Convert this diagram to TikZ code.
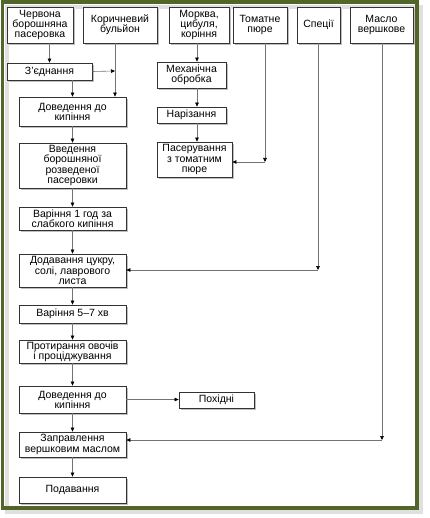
\documentclass[tikz,border=0pt]{standalone}
\usepackage{fontspec}
\setmainfont{Liberation Sans}
\usetikzlibrary{arrows.meta,shadows}
\definecolor{framegreen}{RGB}{82,102,42}

\begin{document}
\begin{tikzpicture}[x=1pt,y=-1pt,
  every node/.style={font=\fontsize{10.5}{10.2}\selectfont},
  stage/.style={draw=black!80, line width=0.8pt, fill=white, align=center, inner sep=1pt,
    drop shadow={shadow xshift=2pt, shadow yshift=-2pt, fill=black!50, opacity=0.5}},
  arr/.style={draw=black!55, line width=0.6pt, -{Triangle[length=4pt,width=3.6pt,color=black]}}]
 \useasboundingbox (0,0) rectangle (429,518);
 \draw[black!12, line width=4pt] (7,7) rectangle (421,512);
 \draw[framegreen, line width=3.5pt] (2.5,2) rectangle (417,508);
 % sources
 \node[stage, minimum width=66, minimum height=36] (chervona) at (40,25) {Червона\\борошняна\\пасеровка};
 \node[stage, minimum width=74, minimum height=36] (korichn) at (120,25) {Коричневий\\бульйон};
 \node[stage, minimum width=60, minimum height=36] (morkva) at (199,25) {Морква,\\цибуля,\\коріння};
 \node[stage, minimum width=54, minimum height=36] (tomat) at (260,25) {Томатне\\пюре};
 \node[stage, minimum width=43, minimum height=36] (spec) at (318.5,25) {Спеції};
 \node[stage, minimum width=63, minimum height=36] (maslo) at (381.5,25) {Масло\\вершкове};
 % main line
 \node[stage, minimum width=85, minimum height=17] (zed) at (49.5,71.5) {З’єднання};
 \node[stage, minimum width=107, minimum height=29] (dov1) at (72.5,111.5) {Доведення до\\кипіння};
 \node[stage, minimum width=107, minimum height=45] (vved) at (72.5,165.5) {Введення\\борошняної\\розведеної\\пасеровки};
 \node[stage, minimum width=107, minimum height=23] (var1) at (72.5,218.5) {Варіння 1 год за\\слабкого кипіння};
 \node[stage, minimum width=107, minimum height=33] (dodav) at (72.5,270.5) {Додавання цукру,\\солі, лаврового\\листа};
 \node[stage, minimum width=107, minimum height=18] (var2) at (72.5,314) {Варіння 5–7 хв};
 \node[stage, minimum width=107, minimum height=23] (protyr) at (72.5,351.5) {Протирання овочів\\і проціджування};
 \node[stage, minimum width=107, minimum height=27] (dov2) at (72.5,399.5) {Доведення до\\кипіння};
 \node[stage, minimum width=75, minimum height=16] (pohidni) at (216.5,400) {Похідні};
 \node[stage, minimum width=107, minimum height=25] (zaprav) at (72.5,444.5) {Заправлення\\вершковим маслом};
 \node[stage, minimum width=107, minimum height=26] (podav) at (72.5,490) {Подавання};
 % vegetables
 \node[stage, minimum width=69, minimum height=26] (mech) at (191.5,75) {Механічна\\обробка};
 \node[stage, minimum width=69, minimum height=16] (nariz) at (191.5,115) {Нарізання};
 \node[stage, minimum width=75, minimum height=35] (paser) at (194.5,159.5) {Пасерування\\з томатним\\пюре};
 \coordinate (kj) at (115,71);
 \coordinate (mx) at (197,0);
 \coordinate (tc) at (265,162);
 \coordinate (sc) at (318,270);
 \coordinate (mc) at (382,440);
 \draw[arr] (zed.center |- chervona.south) -- (zed.north);
 \draw[arr] (zed.east) -- (kj);
 \draw[arr] (kj |- korichn.south) -- (kj |- dov1.north);
 \draw[arr] (dov1.north |- zed.south) -- (dov1.north);
 \draw[arr] (dov1) -- (vved);
 \draw[arr] (vved) -- (var1);
 \draw[arr] (var1) -- (dodav);
 \draw[arr] (dodav) -- (var2);
 \draw[arr] (var2) -- (protyr);
 \draw[arr] (protyr) -- (dov2);
 \draw[arr] (dov2) -- (zaprav);
 \draw[arr] (zaprav) -- (podav);
 \draw[arr] (dov2.east) -- (dov2.east -| pohidni.west);
 \draw[arr] (mx |- morkva.south) -- (mx |- mech.north);
 \draw[arr] (mx |- mech.south) -- (mx |- nariz.north);
 \draw[arr] (mx |- nariz.south) -- (mx |- paser.north);
 \draw[arr] (tc |- tomat.south) -- (tc);
 \draw[arr] (tc) -- (tc -| paser.east);
 \draw[arr] (sc |- spec.south) -- (sc);
 \draw[arr] (sc) -- (sc -| dodav.east);
 \draw[arr] (mc |- maslo.south) -- (mc);
 \draw[arr] (mc) -- (mc -| zaprav.east);
\end{tikzpicture}
\end{document}
